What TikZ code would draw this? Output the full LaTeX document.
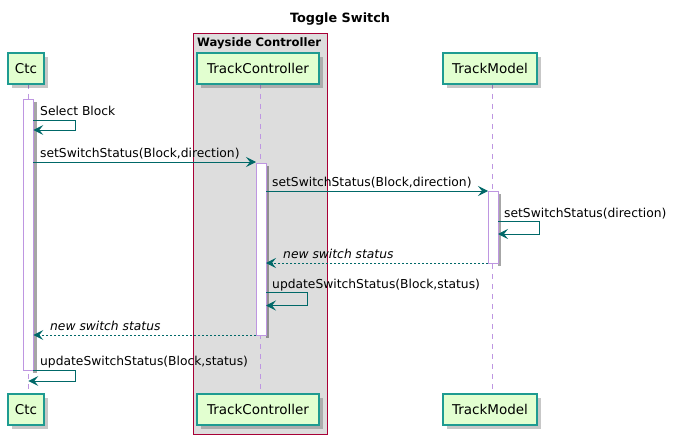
\documentclass[tikz,border=0pt]{standalone}
\usepackage{fontspec}
\setmainfont{DejaVu Sans}
\usetikzlibrary{arrows.meta}
\definecolor{pfill}{RGB}{226,255,208}
\definecolor{pborder}{RGB}{30,155,145}
\definecolor{arr}{RGB}{0,104,104}
\definecolor{life}{RGB}{190,150,225}
\definecolor{grpborder}{RGB}{168,0,54}
\definecolor{grpfill}{RGB}{221,221,221}
\tikzset{
  part/.style={draw=pborder, line width=1.2pt, fill=pfill, inner sep=0pt, minimum height=31pt,
    font=\fontsize{13.5}{16}\selectfont},
  lifeln/.style={draw=life, dash pattern=on 5pt off 5pt, line width=0.8pt},
  actbar/.style={draw=life, fill=white, line width=0.8pt},
  msg/.style={draw=arr, line width=1pt, -{Stealth[length=10pt,width=10pt,inset=4pt]}},
  ret/.style={draw=arr, line width=1pt, dash pattern=on 2pt off 2pt, -{Stealth[length=10pt,width=10pt,inset=4pt]}},
  lbl/.style={anchor=base west, inner sep=0pt, font=\fontsize{12.3}{14}\selectfont},
  shadow/.style={fill=black, opacity=0.22, draw=none}
}
\begin{document}
\begin{tikzpicture}[x=1pt,y=-1pt]
\useasboundingbox (0,0) rectangle (678,444);
\fill[white] (0,0) rectangle (678,444);
% title
\node[font=\bfseries\fontsize{12.8}{15}\selectfont, inner sep=0pt] (title) at (340,19) {Toggle Switch};
% group
\draw[draw=grpborder, fill=grpfill, line width=1pt] (193,34) rectangle (327,434);
\node[font=\bfseries\fontsize{11.6}{13}\selectfont, anchor=base west, inner sep=0pt] (grp) at (197,47) {Wayside Controller};
% lifelines
\draw[lifeln] (28.3,84) -- (28.3,394);
\draw[lifeln] (260.5,84) -- (260.5,394);
\draw[lifeln] (492,84) -- (492,394);
% participant shadows
\foreach \a/\b/\c/\d in {8/53/44/84, 197/53/319/84, 443/53/537/84, 8/394/44/425, 197/394/319/425, 443/394/537/425}{
  \fill[shadow] (\a+4,\b+4) rectangle (\c+4,\d+4);
}
% participants
\node[part, minimum width=36pt] (ctcT) at (26,68.5) {Ctc};
\node[part, minimum width=122pt] (tcT) at (258,68.5) {TrackController};
\node[part, minimum width=94pt] (tmT) at (490,68.5) {TrackModel};
\node[part, minimum width=36pt] (ctcB) at (26,409.5) {Ctc};
\node[part, minimum width=122pt] (tcB) at (258,409.5) {TrackController};
\node[part, minimum width=94pt] (tmB) at (490,409.5) {TrackModel};
% activation bars
\fill[black, opacity=0.35] (33.3,102) rectangle (36.5,373);
\draw[actbar] (23.3,99) rectangle (33.3,370);
\fill[black, opacity=0.35] (266,166) rectangle (269,338);
\draw[actbar] (256,163) rectangle (266,335);
\fill[black, opacity=0.35] (498,194) rectangle (501,266);
\draw[actbar] (488,191) rectangle (498,263);
% coordinates
\coordinate (c1a) at (33.3,120); \coordinate (c1b) at (33.3,130);
\coordinate (c2a) at (33.3,162); \coordinate (t2b) at (256,162);
\coordinate (t3a) at (266,191); \coordinate (m3b) at (488,191);
\coordinate (m4a) at (498,221.5); \coordinate (m4b) at (498,234);
\coordinate (m5a) at (488,263); \coordinate (t5b) at (266,263);
\coordinate (t6a) at (266,292.5); \coordinate (t6b) at (266,305.5);
\coordinate (t7a) at (256,335); \coordinate (c7b) at (33.3,335);
\coordinate (c8a) at (33.3,370); \coordinate (c8b) at (28.3,381);
% messages
\draw[msg] (c1a) -- (75,120) -- (75,130) -- (c1b);
\node[lbl] (l1) at (40,116) {Select Block};
\draw[msg] (c2a) -- (t2b);
\node[lbl] (l2) at (40,157.5) {setSwitchStatus(Block,direction)};
\draw[msg] (t3a) -- (m3b);
\node[lbl] (l3) at (272,186.5) {setSwitchStatus(Block,direction)};
\draw[msg] (m4a) -- (539,221.5) -- (539,234) -- (m4b);
\node[lbl] (l4) at (504,217) {setSwitchStatus(direction)};
\draw[ret] (m5a) -- (t5b);
\node[lbl, font=\itshape\fontsize{12.3}{14}\selectfont] (l5) at (283,258.5) {new switch status};
\draw[msg] (t6a) -- (307,292.5) -- (307,305.5) -- (t6b);
\node[lbl] (l6) at (272,288) {updateSwitchStatus(Block,status)};
\draw[ret] (t7a) -- (c7b);
\node[lbl, font=\itshape\fontsize{12.3}{14}\selectfont] (l7) at (50,330.5) {new switch status};
\draw[msg] (c8a) -- (75,370) -- (75,381) -- (c8b);
\node[lbl] (l8) at (40,365.5) {updateSwitchStatus(Block,status)};
\end{tikzpicture}
\end{document}
